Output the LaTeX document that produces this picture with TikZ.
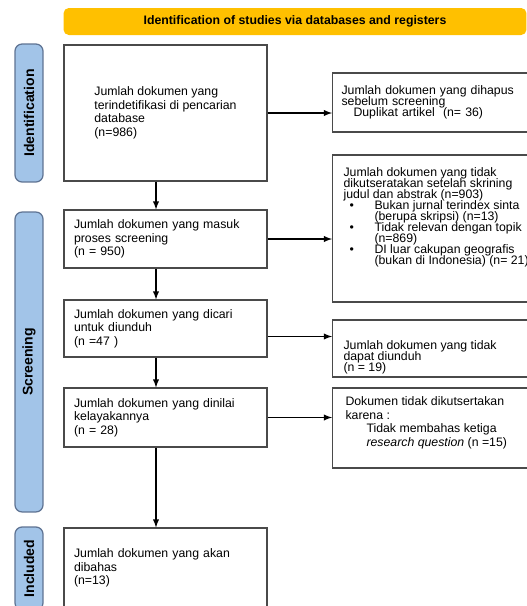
\documentclass[tikz,border=0pt]{standalone}
\usepackage{fontspec}
\setmainfont{Liberation Sans}
\usetikzlibrary{arrows}
\definecolor{bannerfill}{HTML}{FFC000}
\definecolor{sidefill}{HTML}{A2C4E8}
\definecolor{sidedraw}{HTML}{5E7393}
\definecolor{boxdraw}{HTML}{4A4A4A}
\def\unitpx{0.02cm}
\newcommand{\boxfont}{\fontsize{7}{7.7}\selectfont}
\newcommand{\tightfont}{\fontsize{7}{6.2}\selectfont\lineskiplimit=-10pt}
\newcommand{\bul}{\makebox[0.62cm][l]{\hspace{0.12cm}\textbullet}}
\newcommand{\ind}{\hspace*{0.62cm}}
\tikzset{basic/.style={draw=boxdraw,line width=0.6pt,fill=white,inner sep=0pt}}
\tikzset{phase/.style={draw=sidedraw,fill=sidefill,rounded corners=4pt,line width=0.7pt,
                       rotate=90,minimum height=0.56cm,inner sep=0pt,
                       font=\fontsize{8}{9}\selectfont\bfseries}}

\begin{document}
\begin{tikzpicture}[x=\unitpx, y=-\unitpx, >=latex, line width=0.6pt]
    \tikzstyle{banner}=[fill=bannerfill,rounded corners=3pt,minimum width=9.26cm,
                        minimum height=0.54cm,inner sep=0pt,font=\fontsize{7}{8}\selectfont\bfseries]
    \tikzstyle{stage}=[basic,minimum width=4.06cm,align=left,font=\boxfont]
    \tikzstyle{stagetext}=[stage,text width=3.66cm]
    \tikzstyle{outcome}=[basic,anchor=west,inner xsep=0.18cm,text width=4.2cm,
                         align=left,font=\tightfont]
    \tikzstyle{outtext}=[anchor=north west,inner sep=0pt,align=left,font=\tightfont]
    \tikzstyle{link}=[->,black]

    \useasboundingbox (0,0) rectangle (527,606);
    \clip (0,0) rectangle (527,606);
    \fill[white] (0,0) rectangle (527,606);

    % Banner on top
    \node[banner] (head) at (295,21.5) {Identification of studies via databases and registers};

    % Phase labels on the left
    \node[phase, minimum width=2.76cm] (phase-id) at (29,113) {Identification};
    \node[phase, minimum width=6cm] (phase-scr) at (29,362) {Screening};
    \node[phase, minimum width=1.66cm] (phase-inc) at (29,568.5) {Included};

    % Draw the main column
    \node[stage, minimum height=2.72cm] (ident) at (165.5,113)
        {Jumlah dokumen yang\\terindetifikasi di pencarian\\database\\(n=986)};
    \node[stagetext, minimum height=1.16cm] (screen) at (165.5,239)
        {Jumlah dokumen yang masuk\\proses screening\\(n = 950)};
    \node[stagetext, minimum height=1.14cm] (sought) at (165.5,328.5)
        {Jumlah dokumen yang dicari\\untuk diunduh\\(n =47 )};
    \node[stagetext, minimum height=1.18cm] (assess) at (165.5,417.5)
        {Jumlah dokumen yang dinilai\\kelayakannya\\(n = 28)};
    \node[stagetext, minimum height=1.6cm] (incl) at (165.5,568)
        {Jumlah dokumen yang akan\\dibahas\\(n=13)};

    % Draw the excluded column
    \node[outcome, minimum height=1.18cm] (dup) at (332,102.5)
        {Jumlah dokumen yang dihapus\\sebelum screening\\\hspace*{0.24cm}Duplikat artikel\ \ (n= 36)};

    \node[outcome, minimum height=2.94cm] (excl2) at (332,228.5) {};
    \node[outtext] (excl2-txt) at ([xshift=0.22cm,yshift=-0.26cm]excl2.north west)
        {Jumlah dokumen yang tidak\\dikutseratakan setelah skrining\\judul dan abstrak (n=903)\\
         \bul Bukan jurnal terindex sinta\\\ind(berupa skripsi) (n=13)\\
         \bul Tidak relevan dengan topik\\\ind(n=869)\\
         \bul DI luar cakupan geografis\\\ind(bukan di Indonesia) (n= 21)};

    \node[outcome, minimum height=1.14cm] (notdl) at (332,348.5) {};
    \node[outtext] (notdl-txt) at ([xshift=0.22cm,yshift=-0.42cm]notdl.north west)
        {Jumlah dokumen yang tidak\\dapat diunduh\\(n = 19)};

    \node[outcome, minimum height=1.6cm] (excl4) at (332,428) {};
    \node[outtext, font=\boxfont] (excl4-txt) at ([xshift=0.26cm,yshift=-0.18cm]excl4.north west)
        {Dokumen tidak dikutsertakan\\karena :\\\hspace*{0.42cm}Tidak membahas ketiga\\
         \hspace*{0.42cm}\textit{research question} (n =15)};

    % Connect the main column top to bottom
    \coordinate (spine) at (156,0);
    \foreach \source/\dest in {ident/screen,screen/sought,sought/assess,assess/incl}
        \draw[link] (\source.south -| spine) -- (\dest.north -| spine);

    % Connect each stage with its excluded box
    \draw[link] (ident.east) -- (ident.east -| dup.west);
    \draw[link] (screen.east) -- (screen.east -| excl2.west);
    \coordinate (sought-out) at ([yshift=-0.16cm]sought.east);
    \draw[link] (sought-out) -- (sought-out -| notdl.west);
    \draw[link] (assess.east) -- (assess.east -| excl4.west);
\end{tikzpicture}
\end{document}
